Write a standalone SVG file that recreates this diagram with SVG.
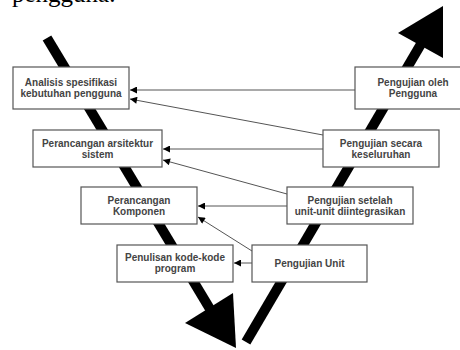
<svg xmlns="http://www.w3.org/2000/svg" width="460" height="350" viewBox="0 0 460 350">
<style>
.box{fill:#fff;stroke:#555;stroke-width:1.2}
.t{font-family:"Liberation Sans",Arial,sans-serif;font-size:10px;font-weight:bold;fill:#444;text-anchor:middle}
.c{stroke:#555;stroke-width:1;fill:none;marker-end:url(#ah)}
.thick{stroke:#000;stroke-width:10;fill:none}
</style>
<defs>
<marker id="ah" viewBox="0 0 10 10" refX="10" refY="5" markerWidth="8" markerHeight="7" markerUnits="userSpaceOnUse" orient="auto">
<path d="M0,0 L10,5 L0,10 z" fill="#000"/>
</marker>
</defs>
<text x="12" y="2" font-family="'Liberation Serif',serif" font-size="25" fill="#000">pengguna.</text>
<g id="flow">
<line class="thick" x1="47" y1="38" x2="210" y2="309"/>
<polygon points="185,323 233,293 236,348" fill="#000"/>
<line class="thick" x1="246" y1="342" x2="421" y2="44"/>
<polygon points="398,33 443,6 443,58" fill="#000"/>
</g>
<g id="connectors">
<line class="c" x1="355" y1="90" x2="130" y2="90"/>
<line class="c" x1="323" y1="135" x2="130" y2="99"/>
<line class="c" x1="323" y1="149" x2="163" y2="149"/>
<line class="c" x1="287" y1="194" x2="163" y2="160"/>
<line class="c" x1="287" y1="206" x2="198" y2="206"/>
<line class="c" x1="252" y1="251" x2="198" y2="217"/>
<line class="c" x1="252" y1="263" x2="234" y2="263"/>
</g>
<g id="n1"><rect class="box" x="13" y="67" width="116" height="42"/><text class="t" x="71" y="86">Analisis spesifikasi</text><text class="t" x="71" y="97">kebutuhan pengguna</text></g>
<g id="n2"><rect class="box" x="355" y="67" width="116" height="42"/><text class="t" x="413" y="86">Pengujian oleh</text><text class="t" x="413" y="97">Pengguna</text></g>
<g id="n3"><rect class="box" x="33" y="130" width="129" height="37"/><text class="t" x="97.5" y="146.5">Perancangan arsitektur</text><text class="t" x="97.5" y="157.5">sistem</text></g>
<g id="n4"><rect class="box" x="323" y="130" width="116" height="37"/><text class="t" x="381" y="146.5">Pengujian secara</text><text class="t" x="381" y="157.5">keseluruhan</text></g>
<g id="n5"><rect class="box" x="81" y="187" width="116" height="37"/><text class="t" x="139" y="203.5">Perancangan</text><text class="t" x="139" y="214.5">Komponen</text></g>
<g id="n6"><rect class="box" x="287" y="187" width="126" height="37"/><text class="t" x="350" y="203.5">Pengujian setelah</text><text class="t" x="350" y="214.5">unit-unit diintegrasikan</text></g>
<g id="n7"><rect class="box" x="117" y="245" width="116" height="37"/><text class="t" x="175" y="260.5">Penulisan kode-kode</text><text class="t" x="175" y="271.5">program</text></g>
<g id="n8"><rect class="box" x="252" y="245" width="115" height="37"/><text class="t" x="309.5" y="267">Pengujian Unit</text></g>
</svg>
